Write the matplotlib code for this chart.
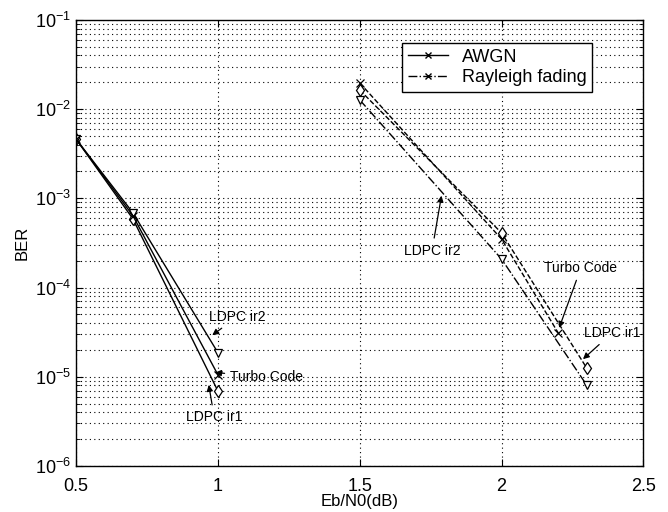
import numpy as np
import matplotlib
matplotlib.use("Agg")
import matplotlib.pyplot as plt

plt.rcParams["font.family"] = ["Liberation Sans", "DejaVu Sans"]
plt.rcParams["mathtext.fontset"] = "custom"
plt.rcParams["mathtext.rm"] = "Liberation Sans"

# ── Data ─────────────────────────────────────────────────────────────────
awgn_x = [0.5, 0.7, 1.0]
awgn_ir1 = [4.6e-3, 5.9e-4, 6.9e-6]
awgn_ir2 = [4.6e-3, 6.9e-4, 1.86e-5]
awgn_turbo = [4.6e-3, 6.4e-4, 1.05e-5]

ray_x = [1.5, 2.0, 2.3]
ray_ir1 = [1.64e-2, 4.1e-4, 1.26e-5]
ray_ir2 = [1.27e-2, 2.09e-4, 8.1e-6]
ray_turbo_x = [1.5, 2.0, 2.2]
ray_turbo = [1.97e-2, 3.5e-4, 3.1e-5]

# ── Figure ───────────────────────────────────────────────────────────────
fig = plt.figure(figsize=(6.68, 5.12), dpi=100, facecolor="white")
ax = fig.add_axes([0.114, 0.090, 0.849, 0.871])

mk = dict(markersize=6, markerfacecolor="white", markeredgecolor="black",
          markeredgewidth=0.9, color="black", linewidth=1.0)

ax.semilogy(awgn_x, awgn_ir1, "-", marker="d", **mk)
ax.semilogy(awgn_x, awgn_ir2, "-", marker="v", **mk)
ax.semilogy(awgn_x, awgn_turbo, "-", marker="x", **mk)

ax.semilogy(ray_x, ray_ir1, "--", marker="d", **mk)
ax.semilogy(ray_x, ray_ir2, "-.", marker="v", **mk)
ax.semilogy(ray_turbo_x, ray_turbo, "--", marker="x", **mk)

ax.set_xlim(0.5, 2.5)
ax.set_ylim(1e-6, 1e-1)
ax.set_xticks([0.5, 1, 1.5, 2, 2.5])
ax.set_xticklabels(["0.5", "1", "1.5", "2", "2.5"])
ax.grid(True, which="major", axis="x", color="black", linestyle=(0, (1, 3)), linewidth=0.8)
ax.grid(True, which="both", axis="y", color="black", linestyle=(0, (1, 3)), linewidth=0.8)
ax.tick_params(which="both", direction="in", top=True, right=True, labelsize=13)
ax.tick_params(which="major", length=5)
ax.tick_params(which="minor", length=3)
ax.tick_params(axis="x", pad=9)
for s in ax.spines.values():
    s.set_linewidth(1.0)

ax.set_xlabel("Eb/N0(dB)", fontsize=12, labelpad=-1)
ax.set_ylabel("BER", fontsize=12, labelpad=4)

# legend (dummy handles)
h1, = ax.plot([], [], "-", marker="x", color="black", markersize=5, linewidth=1.0)
h2, = ax.plot([], [], "-.", marker="x", color="black", markersize=5, linewidth=1.0)
ax.legend([h1, h2], ["AWGN", "Rayleigh fading"], loc="upper right",
          bbox_to_anchor=(0.91, 0.948), fontsize=13, frameon=True, fancybox=False,
          edgecolor="black", framealpha=1, handlelength=2.2, borderpad=0.3,
          labelspacing=0.2, borderaxespad=0)

arrow = dict(arrowstyle="-|>", color="black", lw=0.9, mutation_scale=9)
fs = 10
# AWGN annotations
ax.annotate("LDPC ir2", xy=(0.972, 2.8e-5), xytext=(1.068, 4.7e-5),
            fontsize=fs, ha="center", va="center", arrowprops=arrow)
ax.annotate("Turbo Code", xy=(0.98, 1.12e-5), xytext=(1.043, 1.0e-5),
            fontsize=fs, ha="left", va="center", arrowprops=arrow)
ax.annotate("LDPC ir1", xy=(0.966, 8.7e-6), xytext=(0.987, 3.5e-6),
            fontsize=fs, ha="center", va="center", arrowprops=arrow)
# Rayleigh annotations
ax.annotate("LDPC ir2", xy=(1.79, 1.15e-3), xytext=(1.755, 2.6e-4),
            fontsize=fs, ha="center", va="center", arrowprops=arrow)
ax.annotate("Turbo Code", xy=(2.2, 3.3e-5), xytext=(2.28, 1.66e-4),
            fontsize=fs, ha="center", va="center", arrowprops=arrow)
ax.annotate("LDPC ir1", xy=(2.28, 1.5e-5), xytext=(2.39, 3.1e-5),
            fontsize=fs, ha="center", va="center", arrowprops=arrow)

fig.savefig("out.png", dpi=100, facecolor="white")
